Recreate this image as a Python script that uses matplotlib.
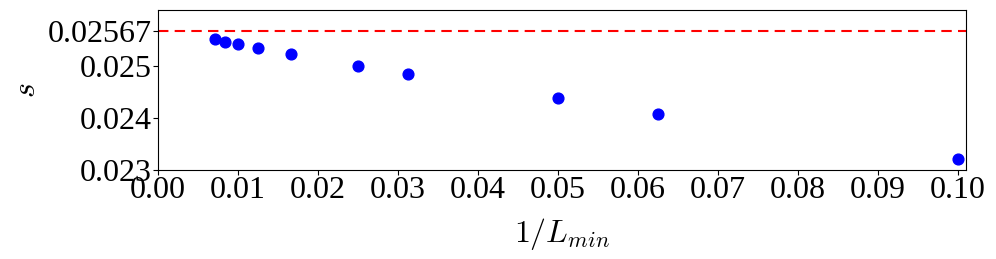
import matplotlib
matplotlib.use('Agg')
import matplotlib.pyplot as plt

plt.rcParams.update({
    "font.family": "serif",
    "font.serif": ["Liberation Serif", "DejaVu Serif"],
    "mathtext.fontset": "cm",
    "xtick.labelsize": 23,
    "ytick.labelsize": 23,
    "axes.labelsize": 23,
})

# 1/L_min and measured s
inv_lmin = [1/140, 1/120, 1/100, 1/80, 1/60, 1/40, 1/32, 1/20, 1/16, 1/10]
s_vals = [0.025513, 0.025467, 0.025417, 0.025340, 0.025225,
          0.024994, 0.024852, 0.024390, 0.024077, 0.023217]
s_limit = 0.02567

y_ticks = [0.023, 0.024, 0.025, s_limit]
y_tick_labels = ["0.023", "0.024", "0.025", "0.02567"]
x_ticks = [0.00, 0.01, 0.02, 0.03, 0.04, 0.05, 0.06, 0.07, 0.08, 0.09, 0.10]

fig = plt.figure(figsize=(9.96, 2.59), dpi=100)
ax = fig.add_axes([0.1586, 0.3436, 0.811, 0.6178])

ax.axhline(s_limit, color="red", linestyle="--", linewidth=1.5, dashes=(5, 3))
ax.scatter(inv_lmin, s_vals, color="blue", s=60, zorder=3)

ax.set_xlim(0, 0.101)
ax.set_ylim(0.023, 0.02608)
ax.set_xticks(x_ticks)
ax.set_xticklabels([f"{v:.2f}" for v in x_ticks])
ax.set_yticks(y_ticks)
ax.set_yticklabels(y_tick_labels)
ax.tick_params(pad=1)

ax.set_xlabel(r"$1/L_{min}$", labelpad=8)
ax.set_ylabel(r"$s$", labelpad=4)

fig.savefig("out.png", dpi=100)
